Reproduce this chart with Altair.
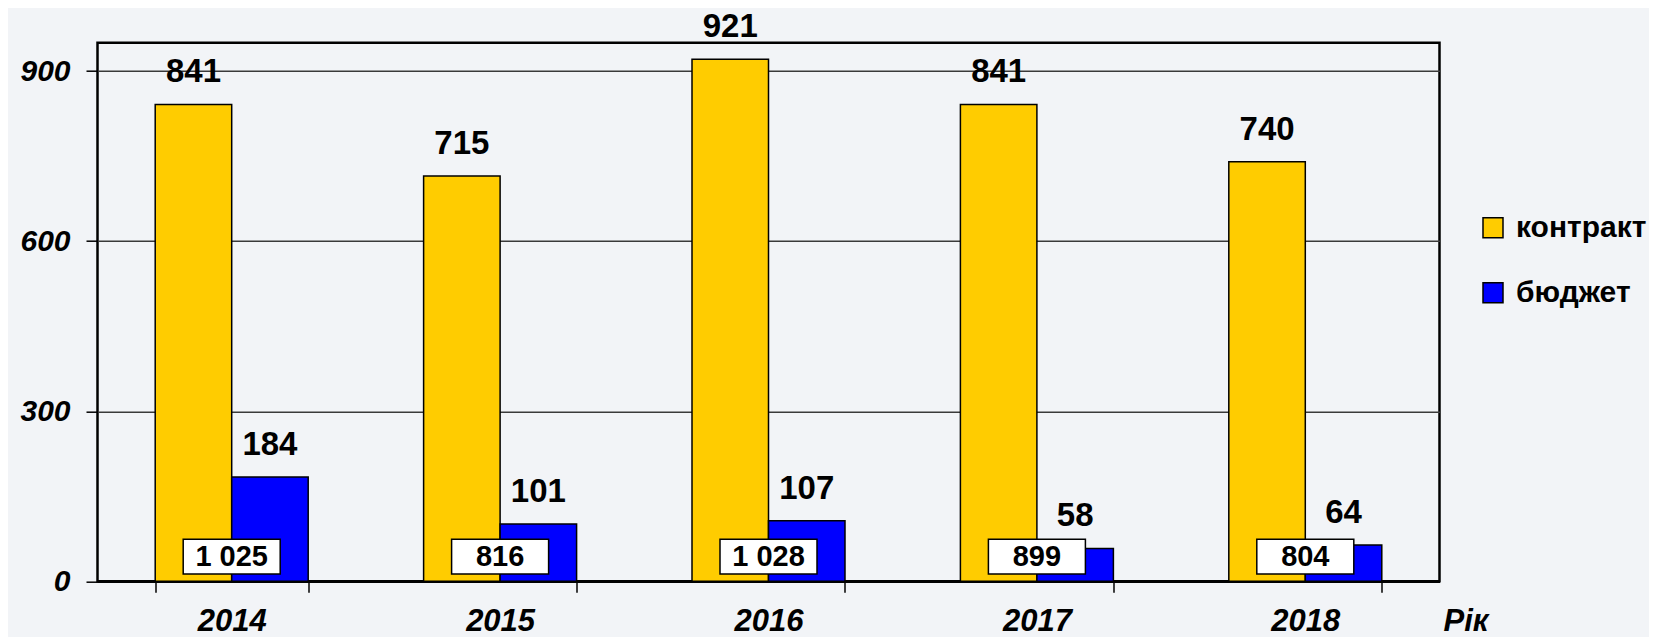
import altair as alt
import pandas as pd

years = ["2014", "2015", "2016", "2017", "2018"]
contract = [841, 715, 921, 841, 740]
budget = [184, 101, 107, 58, 64]
totals = [1025, 816, 1028, 899, 804]
series_names = ["контракт", "бюджет"]
colors = ["#FFCC00", "#0000FF"]

rows = []
for y, c, b in zip(years, contract, budget):
    rows.append({"Year": y, "Series": series_names[0], "Value": c})
    rows.append({"Year": y, "Series": series_names[1], "Value": b})
df = pd.DataFrame(rows)
tot = pd.DataFrame({"Year": years, "Total": totals,
                    "Label": [f"{t:,}".replace(",", " ") for t in totals]})

FONT = "Liberation Sans"

x_enc = alt.X("Year:N", sort=years,
              scale=alt.Scale(paddingInner=0.43, paddingOuter=0.215),
              axis=alt.Axis(title="Рік", titleX=1345.5, titleY=49, titleAlign="left",
                            titleBaseline="alphabetic", titleAnchor="start",
                            titleFontSize=31, titleFontWeight="bold", titleFontStyle="italic",
                            titleFont=FONT, titleColor="black",
                            labelFont=FONT, labelFontSize=31, labelFontWeight="bold",
                            labelFontStyle="italic", labelColor="black", labelAngle=0,
                            labelBaseline="alphabetic", labelPadding=38,
                            tickBand="extent", tickSize=11, tickColor="black", tickWidth=1.5,
                            domainColor="black", domainWidth=2.5))
xo_enc = alt.XOffset("Series:N", sort=series_names,
                     scale=alt.Scale(domain=series_names, paddingInner=0, paddingOuter=0))
y_scale = alt.Scale(domain=[0, 950], nice=False)
y_enc = alt.Y("Value:Q", scale=y_scale,
              axis=alt.Axis(title=None, values=[0, 300, 600, 900], grid=True,
                            gridColor="#3a3a3a", gridWidth=1.5,
                            labelFont=FONT, labelFontSize=30, labelFontWeight="bold",
                            labelFontStyle="italic", labelColor="black",
                            labelPadding=16, tickSize=11.5, tickColor="black", tickWidth=1.5,
                            domain=False))
color_enc = alt.Color("Series:N", sort=series_names,
                      scale=alt.Scale(domain=series_names, range=colors),
                      legend=alt.Legend(title=None, orient="none", legendX=1380.5, legendY=170,
                                        symbolType="square", symbolSize=400,
                                        symbolStrokeColor="black", symbolStrokeWidth=1.5,
                                        labelFont=FONT, labelFontSize=30, labelFontWeight="bold",
                                        labelColor="black", labelOffset=8, rowPadding=35,
                                        padding=0, labelLimit=300))

bars = alt.Chart(df).mark_bar(stroke="black", strokeWidth=1.5).encode(
    x=x_enc, xOffset=xo_enc, y=y_enc, color=color_enc)

vals = alt.Chart(df).mark_text(font=FONT, fontSize=33, fontWeight="bold", color="black",
                               baseline="alphabetic", dy=-22).encode(
    x=alt.X("Year:N", sort=years), xOffset=alt.XOffset("Series:N", sort=series_names),
    y="Value:Q", text="Value:Q")

boxes = alt.Chart(tot).mark_bar(width=97, fill="white", stroke="black", strokeWidth=1.5).encode(
    x=alt.X("Year:N", sort=years), y=alt.datum(13), y2=alt.datum(74))

box_txt = alt.Chart(tot).mark_text(font=FONT, fontSize=29, fontWeight="bold", color="black",
                                   baseline="middle").encode(
    x=alt.X("Year:N", sort=years), y=alt.datum(43.5), text="Label:N")

chart = alt.layer(bars, vals, boxes, box_txt).properties(
    width=1342, height=538.6,
    padding={"left": 89.5, "top": 34.7, "right": 209, "bottom": 60},
    autosize=alt.AutoSizeParams(type="none"),
    background="#f2f4f7",
).configure_view(stroke="black", strokeWidth=2.5, fill=None)

chart.save("out.html", embed_options={"renderer": "svg", "actions": False})
